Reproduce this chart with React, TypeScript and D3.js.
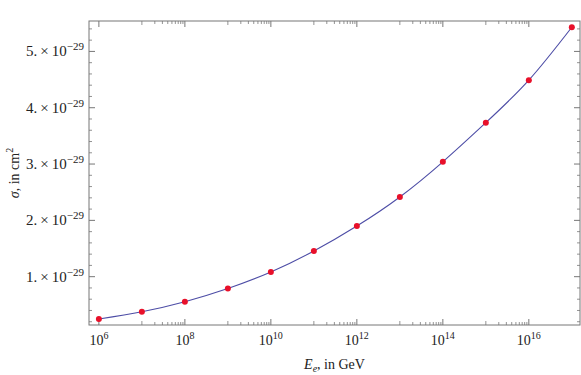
import React from 'react';
import * as d3 from 'd3';

const width = 581;
const height = 375;
const margin = { left: 89, right: 1, top: 21, bottom: 50 };

// energy exponents (E = 10^k GeV) and cross sections (units of 1e-29 cm^2)
const energyExp = [6, 7, 8, 9, 10, 11, 12, 13, 14, 15, 16, 17];
const sigma = [0.249, 0.378, 0.556, 0.79, 1.083, 1.456, 1.9, 2.416, 3.04, 3.735, 4.49, 5.43];

const xMajorExp = [6, 8, 10, 12, 14, 16];
const xMinorDecades = [7, 9, 11, 13, 15];
const yMajor = [1, 2, 3, 4, 5];

const font = 'Liberation Serif, Times New Roman, serif';
const frameColor = '#777';
const lineColor = '#4d4da6';
const dotColor = '#e8102a';

const x = d3.scaleLog()
  .domain([Math.pow(10, 5.77), Math.pow(10, 17.19)])
  .range([margin.left, width - margin.right]);

const y = d3.scaleLinear()
  .domain([0.142, 5.54])
  .range([height - margin.bottom, margin.top]);

const points = energyExp.map((e, i) => ({ e: Math.pow(10, e), s: sigma[i] }));

const curve = d3.line<{ e: number; s: number }>()
  .x(d => x(d.e))
  .y(d => y(d.s))
  .curve(d3.curveNatural);

const xMinor: number[] = [];
xMinorDecades.forEach(dec => {
  for (let k = 1; k <= 9; k++) xMinor.push(k * Math.pow(10, dec));
});

const yMinor = d3.range(0.2, 5.5, 0.2).filter(v => Math.abs(v - Math.round(v)) > 0.01);

const App = () => {
  const x0 = margin.left;
  const x1 = width - margin.right;
  const y0 = height - margin.bottom;
  const y1 = margin.top;
  return (
    <svg width={width} height={height} style={{ position: 'absolute', left: 0, top: 0 }}
      fontFamily={font}>
      <rect x={0} y={0} width={width} height={height} fill="white" />

      {/* x ticks, bottom and top */}
      {xMajorExp.map(e => {
        const px = x(Math.pow(10, e));
        return (
          <g key={'xm' + e}>
            <line x1={px} x2={px} y1={y0} y2={y0 - 6} stroke={frameColor} />
            <line x1={px} x2={px} y1={y1} y2={y1 + 6} stroke={frameColor} />
            <text x={px} y={y0 + 20} textAnchor="middle" fontSize={14} fill="#222">
              10<tspan dy={-6} fontSize={10}>{e}</tspan>
            </text>
          </g>
        );
      })}
      {xMinor.map((v, i) => {
        const px = x(v);
        const len = i % 9 === 0 ? 4 : 3;
        return (
          <g key={'xn' + i}>
            <line x1={px} x2={px} y1={y0} y2={y0 - len} stroke={frameColor} strokeWidth={0.8} />
            <line x1={px} x2={px} y1={y1} y2={y1 + len} stroke={frameColor} strokeWidth={0.8} />
          </g>
        );
      })}

      {/* y ticks, left and right */}
      {yMajor.map(v => {
        const py = y(v);
        return (
          <g key={'ym' + v}>
            <line x1={x0} x2={x0 + 6} y1={py} y2={py} stroke={frameColor} />
            <line x1={x1} x2={x1 - 6} y1={py} y2={py} stroke={frameColor} />
            <text x={x0 - 5} y={py + 5} textAnchor="end" fontSize={15} fill="#222">
              {v}.{'\u2009'}×{'\u2009'}10<tspan dy={-6} fontSize={11}>−29</tspan>
            </text>
          </g>
        );
      })}
      {yMinor.map((v, i) => {
        const py = y(v);
        return (
          <g key={'yn' + i}>
            <line x1={x0} x2={x0 + 3} y1={py} y2={py} stroke={frameColor} strokeWidth={0.8} />
            <line x1={x1} x2={x1 - 3} y1={py} y2={py} stroke={frameColor} strokeWidth={0.8} />
          </g>
        );
      })}

      <rect x={x0} y={y1} width={x1 - x0} height={y0 - y1} fill="none" stroke={frameColor} strokeWidth={1} />

      <path d={curve(points) || ''} fill="none" stroke={lineColor} strokeWidth={1.1} />
      {points.map((d, i) => (
        <circle key={i} cx={x(d.e)} cy={y(d.s)} r={3} fill={dotColor} />
      ))}

      {/* axis titles */}
      <text x={(x0 + x1) / 2} y={369} textAnchor="middle" fontSize={14} fill="#222">
        <tspan fontStyle="italic">E</tspan>
        <tspan dy={3} fontSize={10} fontStyle="italic">e</tspan>
        <tspan dy={-3}>, in GeV</tspan>
      </text>
      <text transform={`translate(19,${(y0 + y1) / 2}) rotate(-90)`} textAnchor="middle" fontSize={14} fill="#222">
        <tspan fontStyle="italic">σ</tspan>, in cm<tspan dy={-6} fontSize={10}>2</tspan>
      </text>
    </svg>
  );
};

export default App;
